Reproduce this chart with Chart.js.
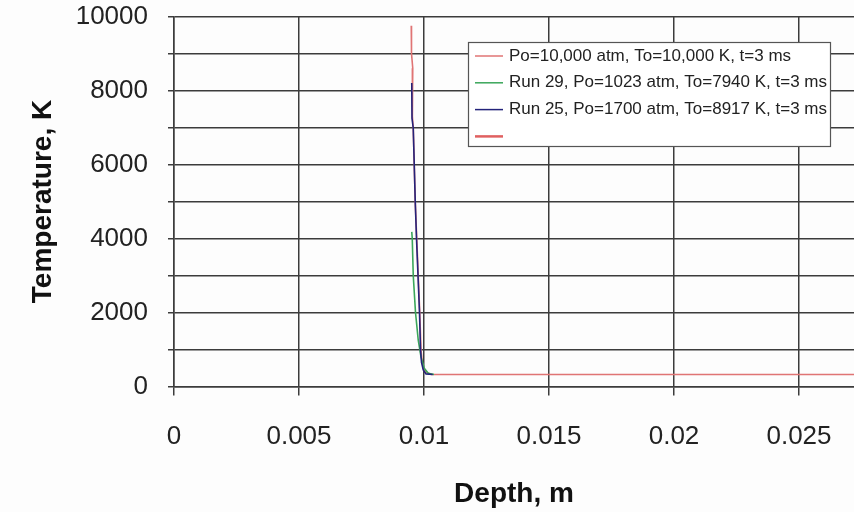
<!DOCTYPE html>
<html>
<head>
<meta charset="utf-8">
<script src="https://cdn.jsdelivr.net/npm/chart.js@4/dist/chart.umd.min.js"></script>
<style>
  html, body { margin: 0; padding: 0; background: #fdfdfd; }
  #wrap { width: 854px; height: 512px; position: relative; }
</style>
</head>
<body>
<div id="wrap"><canvas id="chart"></canvas></div>
<script>
// series: [depth m, temperature K]
const seriesLabels = [
  'Po=10,000 atm, To=10,000 K, t=3 ms',
  'Run 29, Po=1023 atm, To=7940 K, t=3 ms',
  'Run 25, Po=1700 atm, To=8917 K, t=3 ms',
  ''
];
const redDepth = [0.00949, 0.00950, 0.00955, 0.00953, 0.00954, 0.00957, 0.00961, 0.00965, 0.00971, 0.00977, 0.00983, 0.00988, 0.00993, 0.01004, 0.01030, 0.03];
const redTemp  = [9750, 9000, 8600, 8200, 7300, 6980, 5990, 4990, 3990, 3000, 2000, 1000, 630, 400, 325, 325];
const greenDepth = [0.00951, 0.00953, 0.00957, 0.00966, 0.00977, 0.00988, 0.01001, 0.01017, 0.01040];
const greenTemp  = [4180, 4000, 3000, 2000, 1250, 800, 490, 355, 325];
const blueDepth = [0.00951, 0.00952, 0.00957, 0.00961, 0.00965, 0.00970, 0.00976, 0.00982, 0.00986, 0.00990, 0.00997, 0.01008, 0.01035];
const blueTemp  = [8200, 7250, 6980, 5990, 4990, 4000, 3000, 2000, 1000, 650, 450, 340, 325];

const xTickLabels = ['0', '0.005', '0.01', '0.015', '0.02', '0.025'];
const yTickLabels = ['0', '2000', '4000', '6000', '8000', '10000'];

const COLORS = ['#e07474', '#3aa65a', '#23237a', '#e06060'];

const toPoints = (xs, ys) => xs.map((x, i) => ({ x: x, y: ys[i] }));

// legend box drawn by hand (excel-style framed legend inside the plot)
const boxLegend = {
  id: 'boxLegend',
  afterDraw(chart) {
    const ctx = chart.ctx;
    const x0 = 468, y0 = 42, w = 362, h = 104;
    ctx.save();
    ctx.fillStyle = '#ffffff';
    ctx.fillRect(x0, y0, w, h);
    ctx.strokeStyle = '#555555';
    ctx.lineWidth = 1.2;
    ctx.strokeRect(x0 + 0.5, y0 + 0.5, w, h);
    ctx.font = '17px "Liberation Sans", Arial, sans-serif';
    ctx.textBaseline = 'middle';
    ctx.fillStyle = '#222222';
    chart.data.datasets.forEach((ds, i) => {
      const y = y0 + 14 + i * 26.8;
      ctx.strokeStyle = ds.borderColor;
      ctx.lineWidth = i === 3 ? 2.5 : 1.5;
      ctx.beginPath();
      ctx.moveTo(x0 + 7, y);
      ctx.lineTo(x0 + 35, y);
      ctx.stroke();
      ctx.fillText(ds.label, x0 + 41, y);
    });
    ctx.restore();
  }
};

new Chart(document.getElementById('chart'), {
  type: 'line',
  data: {
    datasets: [
      { label: seriesLabels[0], data: toPoints(redDepth, redTemp), borderColor: COLORS[0], order: 2 },
      { label: seriesLabels[1], data: toPoints(greenDepth, greenTemp), borderColor: COLORS[1], order: 1 },
      { label: seriesLabels[2], data: toPoints(blueDepth, blueTemp), borderColor: COLORS[2], order: 0 },
      { label: seriesLabels[3], data: [], borderColor: COLORS[3], order: 3 }
    ]
  },
  options: {
    responsive: true,
    maintainAspectRatio: false,
    animation: false,
    layout: { padding: { top: 16.5, right: 0, left: 0, bottom: 0 } },
    elements: {
      line: { borderWidth: 1.6, tension: 0, fill: false },
      point: { radius: 0 }
    },
    plugins: { legend: { display: false }, tooltip: { enabled: false } },
    scales: {
      x: {
        type: 'linear',
        min: 0,
        max: 0.0272,
        afterFit: s => { s.height = 125.5; s.paddingLeft = 0; s.paddingRight = 0; },
        grid: { color: '#3c3c3c', lineWidth: 1.5, tickLength: 9, drawTicks: true },
        border: { color: '#3c3c3c', width: 1.5 },
        ticks: {
          stepSize: 0.005,
          includeBounds: false,
          maxRotation: 0,
          padding: 26,
          color: '#222222',
          font: { family: '"Liberation Sans", Arial, sans-serif', size: 26 },
          callback: (v, i) => xTickLabels[i]
        },
        title: {
          display: true,
          text: 'Depth, m',
          color: '#111111',
          font: { family: '"Liberation Sans", Arial, sans-serif', size: 28, weight: 'bold' },
          padding: { top: 0, bottom: 1 }
        }
      },
      y: {
        min: 0,
        max: 10000,
        afterFit: s => { s.width = 174; s.paddingTop = 0; s.paddingBottom = 0; },
        grid: { color: '#3c3c3c', lineWidth: 1.5, tickLength: 6 },
        border: { color: '#3c3c3c', width: 1.5 },
        ticks: {
          stepSize: 1000,
          padding: 20,
          color: '#222222',
          font: { family: '"Liberation Sans", Arial, sans-serif', size: 26 },
          callback: (v, i) => (i % 2 === 0 ? yTickLabels[i / 2] : '')
        },
        title: {
          display: true,
          text: 'Temperature, K',
          color: '#111111',
          font: { family: '"Liberation Sans", Arial, sans-serif', size: 28, weight: 'bold' },
          padding: { top: 26, bottom: 0 }
        }
      }
    }
  },
  plugins: [boxLegend]
});
</script>
</body>
</html>
